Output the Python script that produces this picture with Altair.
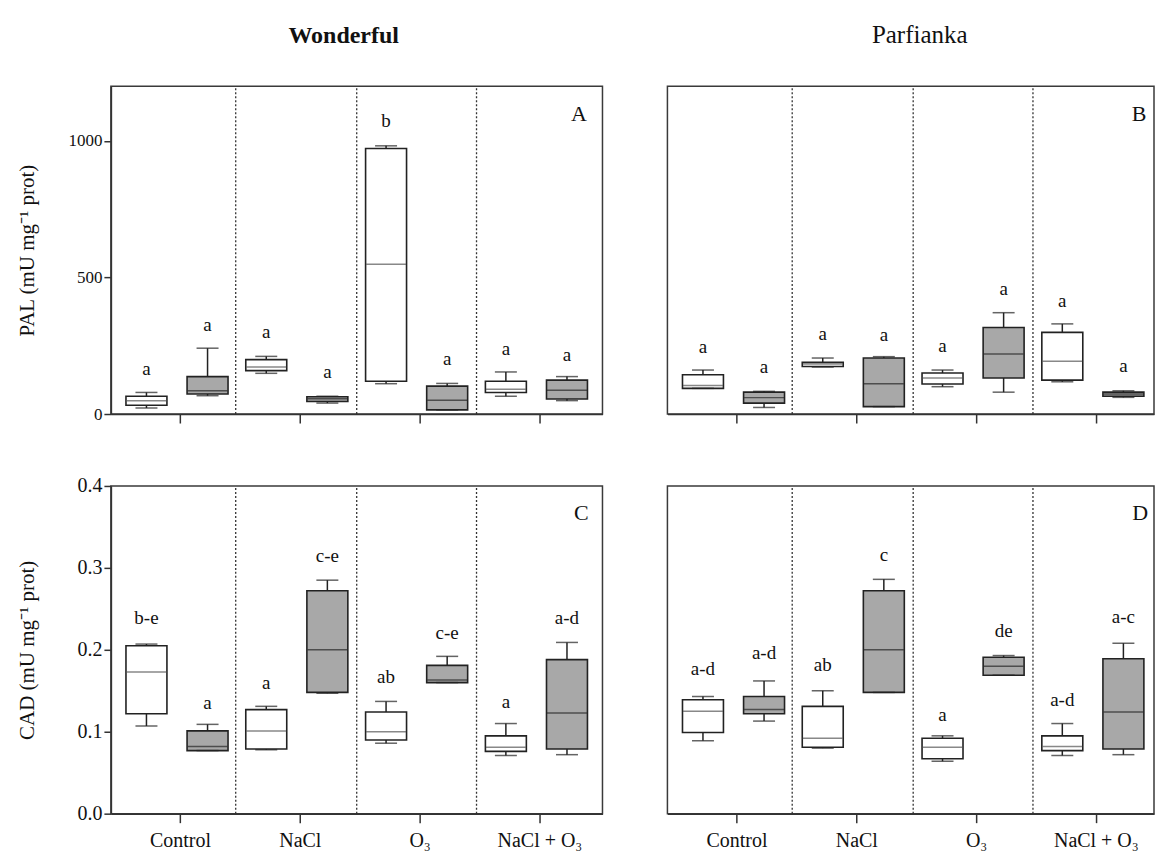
import altair as alt
import pandas as pd

FONT = "Liberation Serif"
GROUPS = ["Control", "NaCl", "O₃", "NaCl + O₃"]
GROUP_POS = [1, 2, 3, 4]
OFFSET_WHITE = -0.28
OFFSET_GRAY = 0.23
DIVIDERS = [1.465, 2.475, 3.475]
X_MIN = 0.465

# ---- Panel A : PAL, Wonderful ----
A_W_MIN = [22, 149, 111, 65]
A_W_Q1 = [32, 159, 120, 79]
A_W_MED = [49, 172, 548, 91]
A_W_Q3 = [65, 199, 972, 120]
A_W_MAX = [79, 211, 982, 154]
A_W_LET = ["a", "a", "b", "a"]
A_W_LY = [165, 299, 1074, 238]
A_G_MIN = [67, 40, 15, 49]
A_G_Q1 = [73, 46, 15, 55]
A_G_MED = [85, 56, 50, 87]
A_G_Q3 = [137, 63, 102, 124]
A_G_MAX = [241, 65, 112, 137]
A_G_LET = ["a", "a", "a", "a"]
A_G_LY = [327, 152, 201, 216]

# ---- Panel B : PAL, Parfianka ----
B_W_MIN = [94, 172, 100, 118]
B_W_Q1 = [94, 174, 110, 124]
B_W_MED = [104, 183, 132, 193]
B_W_Q3 = [144, 189, 150, 299]
B_W_MAX = [161, 205, 161, 330]
B_W_LET = ["a", "a", "a", "a"]
B_W_LY = [245, 293, 249, 413]
B_G_MIN = [24, 27, 80, 61]
B_G_Q1 = [40, 27, 132, 65]
B_G_MED = [60, 111, 220, 73]
B_G_Q3 = [80, 205, 317, 80]
B_G_MAX = [83, 210, 371, 85]
B_G_LET = ["a", "a", "a", "a"]
B_G_LY = [172, 290, 459, 176]

# ---- Panel C : CAD, Wonderful ----
C_W_MIN = [0.107, 0.078, 0.086, 0.071]
C_W_Q1 = [0.122, 0.079, 0.090, 0.076]
C_W_MED = [0.173, 0.101, 0.100, 0.081]
C_W_Q3 = [0.205, 0.127, 0.124, 0.095]
C_W_MAX = [0.207, 0.131, 0.137, 0.110]
C_W_LET = ["b-e", "a", "ab", "a"]
C_W_LY = [0.239, 0.160, 0.167, 0.136]
C_G_MIN = [0.077, 0.147, 0.160, 0.072]
C_G_Q1 = [0.077, 0.148, 0.160, 0.079]
C_G_MED = [0.082, 0.200, 0.163, 0.123]
C_G_Q3 = [0.101, 0.272, 0.181, 0.188]
C_G_MAX = [0.109, 0.285, 0.192, 0.209]
C_G_LET = ["a", "c-e", "c-e", "a-d"]
C_G_LY = [0.135, 0.314, 0.221, 0.239]

# ---- Panel D : CAD, Parfianka ----
D_W_MIN = [0.089, 0.080, 0.064, 0.071]
D_W_Q1 = [0.099, 0.081, 0.067, 0.077]
D_W_MED = [0.125, 0.092, 0.081, 0.082]
D_W_Q3 = [0.139, 0.131, 0.092, 0.095]
D_W_MAX = [0.143, 0.150, 0.095, 0.110]
D_W_LET = ["a-d", "ab", "a", "a-d"]
D_W_LY = [0.176, 0.181, 0.121, 0.139]
D_G_MIN = [0.113, 0.148, 0.169, 0.072]
D_G_Q1 = [0.122, 0.148, 0.169, 0.079]
D_G_MED = [0.127, 0.200, 0.180, 0.124]
D_G_Q3 = [0.143, 0.272, 0.191, 0.189]
D_G_MAX = [0.162, 0.286, 0.193, 0.208]
D_G_LET = ["a-d", "c", "de", "a-c"]
D_G_LY = [0.196, 0.316, 0.223, 0.240]

PANEL_LETTERS = ["A", "B", "C", "D"]
PANEL_LETTER_X = [4.33, 4.36, 4.35, 4.37]
PANEL_LETTER_Y = [1100, 1100, 0.367, 0.367]

WHITE_FILL, GRAY_FILL = "#ffffff", "#a8a8a8"
WHITE_MED, GRAY_MED = "#555555", "#262626"


def frame(off, lo, q1, med, q3, hi, let, ly, fill, medc):
    return pd.DataFrame({
        "pos": [p + off for p in GROUP_POS], "group": GROUPS,
        "lo": lo, "q1": q1, "med": med, "q3": q3, "hi": hi,
        "letter": let, "ly": ly, "fill": [fill] * 4, "medc": [medc] * 4,
    })


def panel(df, ymax, width, xmax, yaxis, xaxis, idx, title=None):
    xs = alt.Scale(domain=[X_MIN, xmax], nice=False, zero=False)
    ys = alt.Scale(domain=[0, ymax], nice=False, zero=True)

    def X(f):
        return alt.X(f"{f}:Q", scale=xs, axis=xaxis)

    def Y(f):
        return alt.Y(f"{f}:Q", scale=ys, axis=yaxis)

    base = alt.Chart(df)
    div = alt.Chart(pd.DataFrame({"d": DIVIDERS, "y0": [0] * 3, "y1": [ymax] * 3})).mark_rule(
        color="#333333", strokeDash=[2, 2], strokeWidth=1.3
    ).encode(x=X("d"), y=Y("y0"), y2="y1:Q")
    whisk = base.mark_rule(color="#222222", strokeWidth=1.5).encode(x=X("pos"), y=Y("lo"), y2="hi:Q")
    box = base.mark_bar(size=41, stroke="#222222", strokeWidth=1.6).encode(
        x=X("pos"), y=Y("q1"), y2="q3:Q", fill=alt.Fill("fill:N", scale=None)
    )
    med = base.mark_tick(orient="horizontal", size=40, thickness=1.5).encode(
        x=X("pos"), y=Y("med"), color=alt.Color("medc:N", scale=None)
    )
    cap_lo = base.mark_tick(orient="horizontal", size=22, thickness=1.5, color="#222222").encode(
        x=X("pos"), y=Y("lo")
    )
    cap_hi = base.mark_tick(orient="horizontal", size=22, thickness=1.5, color="#222222").encode(
        x=X("pos"), y=Y("hi")
    )
    txt = base.mark_text(font=FONT, fontSize=19, baseline="middle", align="center", color="#111111").encode(
        x=X("pos"), y=Y("ly"), text="letter:N"
    )
    plet = alt.Chart(pd.DataFrame({
        "x": [PANEL_LETTER_X[idx]], "y": [PANEL_LETTER_Y[idx]], "t": [PANEL_LETTERS[idx]]
    })).mark_text(font=FONT, fontSize=22, baseline="middle", align="center", color="#111111").encode(
        x=X("x"), y=Y("y"), text="t:N"
    )
    ch = alt.layer(div, whisk, box, med, cap_lo, cap_hi, txt, plet).properties(width=width, height=328)
    if title is not None:
        ch = ch.properties(title=title)
    return ch


def df_for(w, g):
    return pd.concat([frame(OFFSET_WHITE, *w, WHITE_FILL, WHITE_MED),
                      frame(OFFSET_GRAY, *g, GRAY_FILL, GRAY_MED)], ignore_index=True)


dfA = df_for([A_W_MIN, A_W_Q1, A_W_MED, A_W_Q3, A_W_MAX, A_W_LET, A_W_LY],
             [A_G_MIN, A_G_Q1, A_G_MED, A_G_Q3, A_G_MAX, A_G_LET, A_G_LY])
dfB = df_for([B_W_MIN, B_W_Q1, B_W_MED, B_W_Q3, B_W_MAX, B_W_LET, B_W_LY],
             [B_G_MIN, B_G_Q1, B_G_MED, B_G_Q3, B_G_MAX, B_G_LET, B_G_LY])
dfC = df_for([C_W_MIN, C_W_Q1, C_W_MED, C_W_Q3, C_W_MAX, C_W_LET, C_W_LY],
             [C_G_MIN, C_G_Q1, C_G_MED, C_G_Q3, C_G_MAX, C_G_LET, C_G_LY])
dfD = df_for([D_W_MIN, D_W_Q1, D_W_MED, D_W_Q3, D_W_MAX, D_W_LET, D_W_LY],
             [D_G_MIN, D_G_Q1, D_G_MED, D_G_Q3, D_G_MAX, D_G_LET, D_G_LY])

label_expr = "['Control','NaCl','O₃','NaCl + O₃'][round(datum.value)-1]"

x_top = alt.Axis(values=GROUP_POS, labels=False, tickSize=9, tickWidth=1.5, title=None, grid=False,
                 domainColor="#333333", tickColor="#333333", domainWidth=1.5)
x_bot = alt.Axis(values=GROUP_POS, labelExpr=label_expr, tickSize=9, tickWidth=1.5, title=None, grid=False,
                 labelFont=FONT, labelFontSize=20, labelPadding=8, labelFlush=False, labelColor="#111111",
                 domainColor="#333333", tickColor="#333333", domainWidth=1.5)
y_A = alt.Axis(values=[0, 500, 1000], format="d", title="PAL (mU mg⁻¹ prot)", grid=False, tickSize=7,
               tickWidth=1.5, labelFont=FONT, labelFontSize=17, labelPadding=2, labelColor="#111111",
               titleFont=FONT, titleFontSize=21, titleFontWeight="normal", titleColor="#111111",
               titlePadding=31, minExtent=42, maxExtent=42,
               domainColor="#333333", tickColor="#333333", domainWidth=1.5)
y_C = alt.Axis(values=[0, 0.1, 0.2, 0.3, 0.4], format=".1f", title="CAD (mU mg⁻¹ prot)", grid=False,
               tickSize=7, tickWidth=1.5,
               labelFont=FONT, labelFontSize=20, labelPadding=2, labelColor="#111111",
               titleFont=FONT, titleFontSize=21, titleFontWeight="normal", titleColor="#111111",
               titlePadding=31, minExtent=42, maxExtent=42,
               domainColor="#333333", tickColor="#333333", domainWidth=1.5)

W_LEFT, W_RIGHT = 492, 487
XMAX_LEFT = X_MIN + W_LEFT / 122.4
XMAX_RIGHT = X_MIN + W_RIGHT / 122.4

tA = alt.TitleParams("Wonderful", font=FONT, fontSize=24, fontWeight="bold", offset=38, dx=-13,
                     anchor="middle", color="#111111")
tB = alt.TitleParams("Parfianka", font=FONT, fontSize=25, fontWeight="normal", offset=38, dx=9,
                     anchor="middle", color="#111111")

pA = panel(dfA, 1200, W_LEFT, XMAX_LEFT, y_A, x_top, 0, tA)
pB = panel(dfB, 1200, W_RIGHT, XMAX_RIGHT, None, x_top, 1, tB)
pC = panel(dfC, 0.4, W_LEFT, XMAX_LEFT, y_C, x_bot, 2)
pD = panel(dfD, 0.4, W_RIGHT, XMAX_RIGHT, None, x_bot, 3)

row1 = alt.hconcat(pA, pB, spacing=63)
row2 = alt.hconcat(pC, pD, spacing=63)
chart = alt.vconcat(row1, row2, spacing=50).properties(
    padding={"left": 16, "top": 21, "right": 0, "bottom": 0},
    background="white",
).configure_view(stroke="#3a3a3a", strokeWidth=1.5).configure_axis(grid=False)

chart.save("out.html", embed_options={"renderer": "svg", "actions": False})
